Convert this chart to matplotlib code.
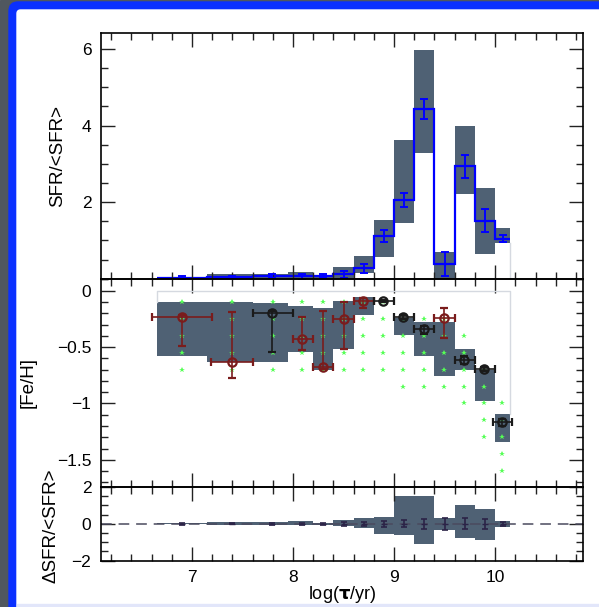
import numpy as np
import matplotlib
matplotlib.use('Agg')
import matplotlib.pyplot as plt
from matplotlib.patches import Rectangle, FancyBboxPatch
from matplotlib.ticker import MultipleLocator

plt.rcParams['font.family'] = ['Liberation Sans', 'DejaVu Sans']
plt.rcParams['mathtext.fontset'] = 'dejavusans'

# bins in log(age)
edges = [6.65, 7.15, 7.6, 7.95, 8.2, 8.4, 8.6, 8.8, 9.0, 9.2, 9.4, 9.6, 9.8, 10.0, 10.15]
centers = [6.90, 7.40, 7.79, 8.09, 8.30, 8.50, 8.70, 8.90, 9.10, 9.30, 9.50, 9.70, 9.90, 10.08]

# top panel: SFR/<SFR>
sfr = [0.03, 0.05, 0.08, 0.06, 0.07, 0.12, 0.27, 1.12, 2.06, 4.43, 0.38, 2.94, 1.52, 1.04]
sfr_err = [0.05, 0.03, 0.05, 0.06, 0.04, 0.09, 0.11, 0.16, 0.19, 0.27, 0.31, 0.30, 0.29, 0.09]
sfr_lo = [0.0, 0.0, 0.0, 0.0, 0.0, 0.0, 0.14, 0.58, 1.46, 3.29, 0.0, 2.22, 0.64, 0.94]
sfr_hi = [0.04, 0.12, 0.12, 0.17, 0.10, 0.31, 0.60, 1.53, 3.63, 5.98, 0.71, 3.98, 2.37, 1.33]

# middle panel: [Fe/H] range per bin
feh_lo = [-0.58, -0.63, -0.63, -0.54, -0.70, -0.52, -0.215, -0.09, -0.39, -0.58, -0.76, -0.70, -0.98, -1.345]
feh_hi = [-0.10, -0.10, -0.106, -0.135, -0.156, -0.088, -0.06, -0.09, -0.24, -0.274, -0.274, -0.52, -0.70, -1.09]

# model grid (green stars): column x, highest and lowest level
grid_x = [6.90, 7.40, 7.80, 8.09, 8.30, 8.50, 8.69, 8.89, 9.09, 9.30, 9.49, 9.69, 9.89, 10.07]
grid_top = [-0.1, -0.1, -0.1, -0.1, -0.1, -0.1, -0.1, -0.1, -0.25, -0.25, -0.25, -0.4, -0.7, -1.0]
grid_bot = [-0.7, -0.7, -0.7, -0.7, -0.7, -0.7, -0.7, -0.7, -0.85, -0.85, -0.85, -1.0, -1.3, -1.6]

# cluster metallicities
pt_x = [6.90, 7.40, 7.79, 8.09, 8.30, 8.50, 8.69, 8.89, 9.09, 9.30, 9.49, 9.69, 9.89, 10.07]
pt_y = [-0.235, -0.63, -0.195, -0.43, -0.68, -0.25, -0.088, -0.088, -0.235, -0.34, -0.24, -0.613, -0.696, -1.16]
pt_xlo = [6.60, 7.19, 7.60, 8.00, 8.20, 8.40, 8.60, 8.80, 9.00, 9.20, 9.40, 9.60, 9.80, 9.98]
pt_xhi = [7.20, 7.60, 8.00, 8.20, 8.40, 8.60, 8.80, 9.00, 9.20, 9.40, 9.60, 9.80, 10.00, 10.17]
pt_ylo = [-0.49, -0.775, -0.54, -0.525, -0.69, -0.52, -0.156, -0.10, -0.25, -0.385, -0.42, -0.65, -0.71, -1.20]
pt_yhi = [-0.22, -0.186, -0.18, -0.23, -0.18, -0.097, -0.067, -0.08, -0.22, -0.31, -0.156, -0.575, -0.68, -1.14]
pt_red = [True, True, False, True, True, True, True, False, False, False, True, False, False, False]

# bottom panel: delta SFR range
dsfr_lo = [-0.03, -0.04, -0.08, -0.07, -0.07, -0.13, -0.22, -0.57, -0.60, -1.12, -0.31, -0.76, -0.89, -0.15]
dsfr_hi = [0.03, 0.08, 0.08, 0.13, 0.07, 0.21, 0.31, 0.38, 1.50, 1.50, 0.34, 1.04, 0.81, 0.18]

gray = '#4f6174'
red = '#7a1c1c'
green = '#55ff55'

fig = plt.figure(figsize=(5.99, 6.07), dpi=100)
fig.patch.set_facecolor('white')

# slide frame
fig.add_artist(Rectangle((0, 0), 1, 1, transform=fig.transFigure, color='#50575f', zorder=-10))
fig.add_artist(FancyBboxPatch((9 / 599, -0.1), 1.2, 1.1 - 2 / 607, boxstyle='round,pad=0,rounding_size=0.015',
                              transform=fig.transFigure, color='#0a30ff', zorder=-9))
fig.add_artist(FancyBboxPatch((17 / 599, -0.1), 1.2, 1.1 - 10 / 607, boxstyle='round,pad=0,rounding_size=0.006',
                              transform=fig.transFigure, color='white', zorder=-8))
fig.add_artist(Rectangle((17 / 599, 0), 1, 3 / 607, transform=fig.transFigure, color='#e2e6fa', zorder=-7))

L, W = 101 / 599, 482 / 599
ax1 = fig.add_axes([L, 1 - 278.7 / 607, W, 245.7 / 607])
ax2 = fig.add_axes([L, 1 - 487 / 607, W, 208.3 / 607])
ax3 = fig.add_axes([L, 1 - 560.7 / 607, W, 73.7 / 607])

widths = np.diff(edges)
left = np.array(edges[:-1])

# top panel
ax1.bar(left, np.array(sfr_hi) - np.array(sfr_lo), bottom=sfr_lo, width=widths, align='edge', color=gray, lw=0)
ax1.plot([10.15, 10.15], [0, 0.94], color='#d5d9e0', lw=1)
ax1.stairs(sfr, edges, baseline=None, color='blue', lw=1.6)
ax1.errorbar(centers, sfr, yerr=sfr_err, fmt='none', ecolor='blue', elinewidth=1.4, capsize=3, capthick=1.4)
ax1.set_ylim(0, 6.42)
ax1.set_yticks([2, 4, 6])
ax1.yaxis.set_minor_locator(MultipleLocator(0.5))
ax1.set_ylabel('SFR/<SFR>', fontsize=13.5)
ax1.yaxis.set_label_coords(-0.073, 0.5)

# middle panel
ax2.plot([6.65, 6.65, 10.15, 10.15], [-0.1, 0.0, 0.0, -1.09], color='#d5d9e0', lw=1)
ax2.bar(left, np.array(feh_hi) - np.array(feh_lo), bottom=feh_lo, width=widths, align='edge', color=gray, lw=0)
for gx, gt, gb in zip(grid_x, grid_top, grid_bot):
    levels = np.arange(gt, gb - 0.01, -0.15)
    ax2.plot([gx] * len(levels), levels, ls='none', marker='*', ms=4.2, color=green, mew=0)
for i in range(len(pt_x)):
    c = red if pt_red[i] else '#1a1a1a'
    ax2.errorbar(pt_x[i], pt_y[i],
                 xerr=[[pt_x[i] - pt_xlo[i]], [pt_xhi[i] - pt_x[i]]],
                 yerr=[[pt_y[i] - pt_ylo[i]], [pt_yhi[i] - pt_y[i]]],
                 fmt='o', color=c, mfc='none', mec=c, ms=6, mew=1.6,
                 elinewidth=1.2, capsize=3, capthick=1.2)
ax2.set_ylim(-1.74, 0.106)
ax2.set_yticks([0, -0.5, -1, -1.5])
ax2.set_yticklabels(['0', '\u22120.5', '\u22121', '\u22121.5'])
ax2.yaxis.set_minor_locator(MultipleLocator(0.1))
ax2.set_ylabel('[Fe/H]', fontsize=13.5)
ax2.yaxis.set_label_coords(-0.133, 0.5)

# bottom panel
ax3.bar(left, np.array(dsfr_hi) - np.array(dsfr_lo), bottom=dsfr_lo, width=widths, align='edge', color=gray, lw=0)
ax3.axhline(0, color='#4a4a5e', lw=1.1, dashes=(7, 4.5))
ax3.errorbar(centers, np.zeros(len(centers)), yerr=sfr_err, fmt='_', color='#2b2347', ms=4,
             elinewidth=1.2, capsize=2.5, capthick=1.2)
ax3.set_ylim(-2, 2)
ax3.set_yticks([-2, 0, 2])
ax3.set_yticklabels(['\u22122', '0', '2'])
ax3.yaxis.set_minor_locator(MultipleLocator(0.5))
ax3.set_ylabel('\u0394SFR/<SFR>', fontsize=13.5)
ax3.yaxis.set_label_coords(-0.087, 0.47)

for ax in (ax1, ax2, ax3):
    ax.set_xlim(6.1, 10.87)
    ax.set_xticks([7, 8, 9, 10])
    ax.xaxis.set_minor_locator(MultipleLocator(0.2))
    ax.tick_params(which='both', direction='in', top=True, right=True, width=1, color='#222222')
    ax.tick_params(which='major', length=10, labelsize=12.5, pad=7)
    ax.tick_params(which='minor', length=5)
    for s in ax.spines.values():
        s.set_linewidth(1.2)
    ax.set_facecolor('none')
ax1.tick_params(labelbottom=False)
ax2.tick_params(labelbottom=False)
ax3.tick_params(axis='x', pad=7)
ax3.set_xticklabels(['7', '8', '9', '10'])
ax3.set_xlabel(r'log($\mathbf{\tau}$/yr)', fontsize=13, labelpad=-1)

fig.savefig('out.png', dpi=100)
